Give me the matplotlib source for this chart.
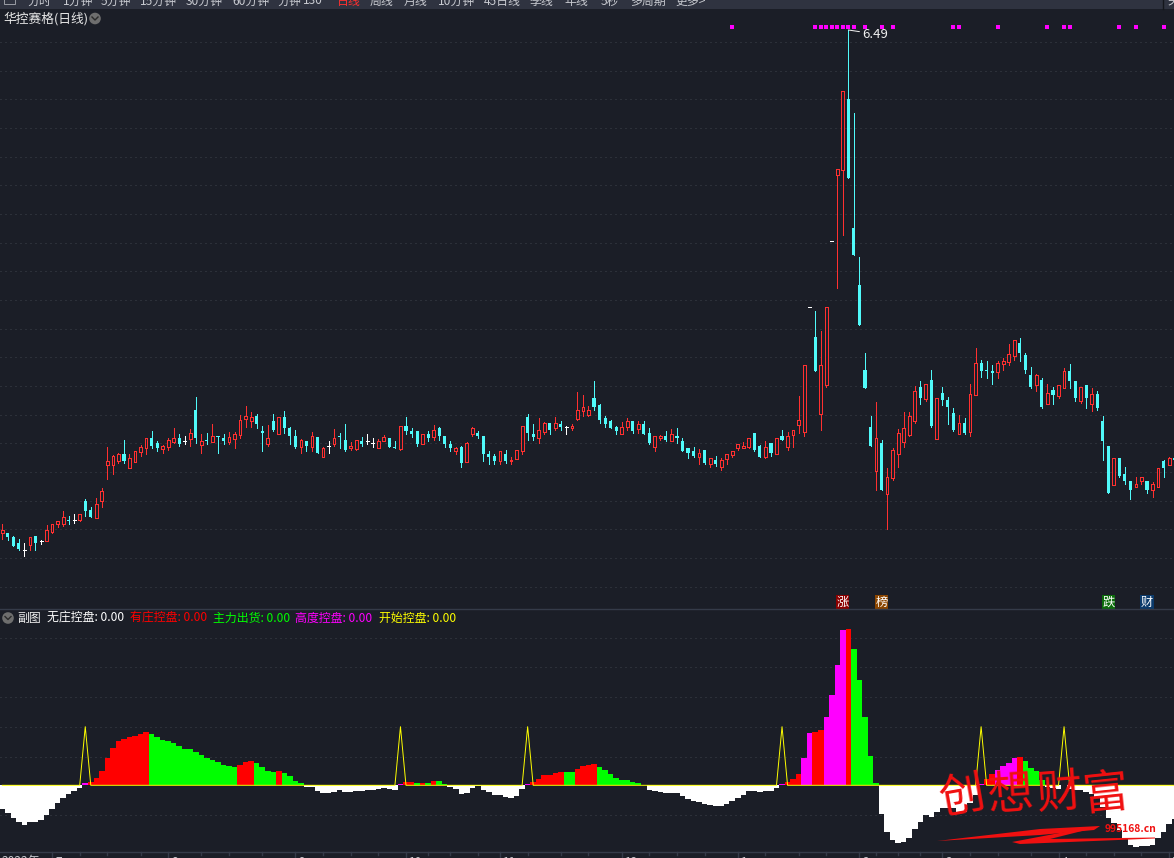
# Stock chart with candle panel on top and control-indicator bars below
import numpy as np
import matplotlib
matplotlib.use('Agg')
import matplotlib.pyplot as plt
from matplotlib.patches import Rectangle, Circle, Polygon

plt.rcParams['font.family'] = ['Noto Sans CJK SC', 'DejaVu Sans']

W, H = 1174, 858
BG = '#1b1e27'
RED = '#ff3030'
CYAN = '#50fafa'
GRID = '#3e424c'
FRAME = '#353b49'

# r = up (hollow red), c = down (cyan), w = flat (white)
kinds = ('rcccwrcwrr' 'rrcwrccrrr' 'rrcrrrrccr' 'rrcwrcrcrc' 'crrrrrccrc'
         'rcccrcrcrw' 'rccrrcwwrr' 'ccrcccrcrc' 'ccrcrrcccc' 'rcrrrccrrc'
         'rcwrrrrccc' 'ccrrcrccrr' 'crccccrcrc' 'rrrrrrccrc' 'rcrrrrwcrr'
         'wrrcccccrc' 'rrrrrrcrcr' 'cccrcrrccc' 'rrrrcccrcr' 'crrccrcrcc'
         'crcccrrcrr' 'crc')

body_top = [1.49, 1.46, 1.42, 1.36, 1.29, 1.42, 1.43, 1.38, 1.49, 1.55,
            1.58, 1.62, 1.59, 1.59, 1.65, 1.78, 1.69, 1.75, 1.88, 2.18,
            2.23, 2.25, 2.25, 2.21, 2.28, 2.32, 2.41, 2.41, 2.36, 2.33,
            2.39, 2.41, 2.41, 2.38, 2.46, 2.69, 2.38, 2.39, 2.43, 2.43,
            2.41, 2.42, 2.45, 2.59, 2.63, 2.62, 2.63, 2.48, 2.41, 2.58,
            2.62, 2.62, 2.51, 2.43, 2.39, 2.38, 2.43, 2.42, 2.31, 2.33,
            2.41, 2.43, 2.39, 2.33, 2.39, 2.38, 2.38, 2.36, 2.38, 2.42,
            2.41, 2.32, 2.53, 2.53, 2.48, 2.48, 2.45, 2.45, 2.49, 2.51,
            2.43, 2.35, 2.31, 2.32, 2.36, 2.51, 2.46, 2.43, 2.25, 2.23,
            2.28, 2.25, 2.19, 2.29, 2.53, 2.62, 2.45, 2.49, 2.56, 2.56,
            2.56, 2.55, 2.52, 2.53, 2.69, 2.72, 2.69, 2.81, 2.74, 2.61,
            2.58, 2.52, 2.52, 2.58, 2.58, 2.55, 2.55, 2.46, 2.43, 2.43,
            2.43, 2.45, 2.43, 2.38, 2.31, 2.28, 2.26, 2.29, 2.21, 2.19,
            2.19, 2.25, 2.28, 2.35, 2.33, 2.41, 2.46, 2.33, 2.32, 2.36,
            2.41, 2.43, 2.43, 2.49, 2.59, 3.14, 3.72, 3.42, 3.14, 3.72,
            4.38, 5.10, 5.88, 5.80, 4.51, 3.94, 3.09, 2.52, 2.41, 2.36,
            2.02, 2.29, 2.46, 2.51, 2.63, 2.88, 2.92, 2.95, 2.99, 2.81,
            2.86, 2.79, 2.66, 2.56, 2.56, 2.85, 3.16, 3.16, 3.09, 3.08,
            3.16, 3.18, 3.25, 3.39, 3.36, 3.24, 3.04, 3.04, 2.99, 2.86,
            2.89, 2.94, 3.08, 3.08, 2.98, 2.92, 2.94, 2.85, 2.85, 2.58,
            2.33, 2.21, 2.21, 2.05, 1.98, 1.95, 2.02, 1.98, 1.95, 2.11,
            2.18, 2.21, 2.21]

body_bot = [1.46, 1.42, 1.33, 1.30, 1.29, 1.34, 1.36, 1.38, 1.38, 1.47,
            1.55, 1.55, 1.58, 1.59, 1.59, 1.68, 1.62, 1.61, 1.78, 2.14,
            2.14, 2.18, 2.18, 2.11, 2.17, 2.27, 2.31, 2.33, 2.31, 2.30,
            2.32, 2.37, 2.35, 2.38, 2.40, 2.41, 2.34, 2.38, 2.37, 2.42,
            2.38, 2.37, 2.40, 2.44, 2.60, 2.58, 2.55, 2.46, 2.35, 2.49,
            2.45, 2.51, 2.43, 2.32, 2.32, 2.33, 2.32, 2.26, 2.22, 2.33,
            2.35, 2.42, 2.29, 2.31, 2.30, 2.35, 2.38, 2.36, 2.31, 2.38,
            2.32, 2.31, 2.30, 2.48, 2.45, 2.35, 2.35, 2.41, 2.42, 2.43,
            2.35, 2.31, 2.28, 2.16, 2.17, 2.45, 2.43, 2.25, 2.22, 2.18,
            2.18, 2.18, 2.18, 2.20, 2.28, 2.46, 2.42, 2.41, 2.47, 2.49,
            2.51, 2.52, 2.52, 2.51, 2.60, 2.68, 2.64, 2.72, 2.59, 2.55,
            2.51, 2.48, 2.45, 2.52, 2.48, 2.50, 2.45, 2.36, 2.32, 2.41,
            2.39, 2.38, 2.41, 2.28, 2.26, 2.23, 2.22, 2.16, 2.15, 2.15,
            2.12, 2.20, 2.24, 2.31, 2.31, 2.32, 2.29, 2.22, 2.22, 2.26,
            2.25, 2.39, 2.32, 2.44, 2.54, 2.47, 3.72, 3.08, 2.65, 2.94,
            4.38, 5.04, 5.09, 5.01, 4.24, 3.54, 2.91, 2.33, 2.08, 1.89,
            1.85, 2.01, 2.25, 2.37, 2.44, 2.58, 2.81, 2.80, 2.53, 2.40,
            2.79, 2.72, 2.49, 2.45, 2.46, 2.47, 2.84, 3.08, 3.08, 3.06,
            3.07, 3.15, 3.17, 3.23, 3.26, 3.09, 2.92, 2.94, 2.72, 2.75,
            2.84, 2.83, 2.91, 2.98, 2.81, 2.78, 2.81, 2.75, 2.71, 2.38,
            1.86, 1.94, 2.03, 1.98, 1.89, 1.92, 1.98, 1.89, 1.89, 1.92,
            2.11, 2.14, 2.19]

highs = [1.55, 1.46, 1.43, 1.40, 1.36, 1.42, 1.43, 1.39, 1.54, 1.55,
         1.58, 1.68, 1.63, 1.65, 1.65, 1.80, 1.72, 1.81, 1.91, 2.32,
         2.24, 2.26, 2.39, 2.25, 2.28, 2.34, 2.41, 2.48, 2.38, 2.34,
         2.41, 2.51, 2.45, 2.43, 2.50, 2.82, 2.45, 2.46, 2.55, 2.43,
         2.45, 2.47, 2.47, 2.64, 2.73, 2.67, 2.65, 2.53, 2.54, 2.65,
         2.62, 2.68, 2.52, 2.49, 2.40, 2.38, 2.47, 2.42, 2.32, 2.38,
         2.50, 2.46, 2.55, 2.37, 2.39, 2.42, 2.45, 2.41, 2.40, 2.44,
         2.41, 2.38, 2.53, 2.62, 2.51, 2.48, 2.45, 2.48, 2.54, 2.52,
         2.43, 2.38, 2.32, 2.33, 2.37, 2.52, 2.48, 2.43, 2.28, 2.25,
         2.28, 2.29, 2.22, 2.29, 2.53, 2.65, 2.55, 2.61, 2.57, 2.56,
         2.62, 2.58, 2.53, 2.55, 2.87, 2.84, 2.73, 2.98, 2.75, 2.63,
         2.59, 2.53, 2.57, 2.61, 2.58, 2.58, 2.58, 2.51, 2.43, 2.44,
         2.48, 2.50, 2.51, 2.41, 2.31, 2.32, 2.30, 2.29, 2.21, 2.23,
         2.21, 2.25, 2.28, 2.35, 2.37, 2.41, 2.46, 2.34, 2.38, 2.36,
         2.41, 2.49, 2.47, 2.49, 2.83, 3.14, 3.72, 3.68, 3.48, 3.72,
         4.38, 5.10, 5.88, 6.49, 5.66, 4.22, 3.26, 2.63, 2.77, 2.39,
         2.11, 2.31, 2.50, 2.67, 2.67, 2.93, 2.98, 2.95, 3.09, 2.81,
         2.92, 2.82, 2.71, 2.64, 2.61, 2.95, 3.31, 3.19, 3.18, 3.14,
         3.18, 3.21, 3.35, 3.39, 3.41, 3.26, 3.12, 3.05, 3.01, 2.95,
         2.92, 2.94, 3.11, 3.15, 2.98, 2.92, 2.94, 2.91, 2.88, 2.63,
         2.33, 2.21, 2.21, 2.12, 1.98, 2.02, 2.02, 1.98, 1.97, 2.11,
         2.19, 2.22, 2.21]

lows = [1.40, 1.39, 1.33, 1.29, 1.23, 1.29, 1.29, 1.35, 1.38, 1.46,
        1.52, 1.53, 1.55, 1.56, 1.58, 1.63, 1.62, 1.61, 1.72, 2.00,
        2.05, 2.16, 2.16, 2.11, 2.17, 2.23, 2.25, 2.31, 2.28, 2.26,
        2.29, 2.36, 2.33, 2.35, 2.33, 2.36, 2.26, 2.35, 2.37, 2.26,
        2.35, 2.35, 2.31, 2.41, 2.52, 2.52, 2.51, 2.28, 2.33, 2.48,
        2.45, 2.46, 2.35, 2.31, 2.26, 2.28, 2.28, 2.26, 2.22, 2.26,
        2.33, 2.31, 2.28, 2.29, 2.29, 2.33, 2.35, 2.32, 2.31, 2.38,
        2.32, 2.31, 2.29, 2.45, 2.42, 2.33, 2.35, 2.38, 2.39, 2.39,
        2.32, 2.28, 2.25, 2.12, 2.17, 2.43, 2.41, 2.18, 2.15, 2.15,
        2.15, 2.16, 2.15, 2.20, 2.25, 2.39, 2.39, 2.36, 2.45, 2.45,
        2.49, 2.49, 2.45, 2.49, 2.59, 2.63, 2.63, 2.69, 2.56, 2.52,
        2.51, 2.45, 2.45, 2.49, 2.46, 2.46, 2.45, 2.35, 2.28, 2.39,
        2.38, 2.38, 2.36, 2.28, 2.21, 2.22, 2.15, 2.15, 2.12, 2.13,
        2.09, 2.15, 2.22, 2.29, 2.31, 2.31, 2.28, 2.22, 2.21, 2.23,
        2.25, 2.39, 2.29, 2.32, 2.46, 2.43, 3.72, 3.08, 2.49, 2.92,
        4.38, 3.91, 4.44, 5.01, 4.24, 3.54, 2.91, 2.33, 1.89, 1.89,
        1.50, 1.99, 2.12, 2.32, 2.43, 2.56, 2.75, 2.78, 2.52, 2.40,
        2.74, 2.55, 2.48, 2.45, 2.45, 2.43, 2.84, 3.02, 3.01, 2.95,
        3.01, 3.09, 3.14, 3.19, 3.18, 3.06, 2.91, 2.88, 2.71, 2.75,
        2.75, 2.81, 2.91, 2.91, 2.78, 2.76, 2.71, 2.68, 2.69, 2.19,
        1.86, 1.94, 2.02, 1.95, 1.80, 1.92, 1.95, 1.86, 1.82, 1.92,
        2.02, 2.14, 2.19]

price_grid = [6.37 - 0.2866 * k for k in range(20)]
peak_index = 153
peak_price = 6.49

# days flagged along the top edge
dot_days = [132, 147, 148, 149, 150, 151, 152, 153, 154, 156, 159, 161,
            172, 173, 180, 189, 192, 193, 202, 205, 210]

# w 无庄控盘, r 有庄控盘, g 主力出货, m 高度控盘
sub_kinds = ('w' * 15 + 'm' + 'r' * 11 + 'g' * 16 + 'rrr' + 'gggg' + 'r' + 'gggg'
             + 'w' * 17 + 'm' + 'rrgrgrgg' + 'w' * 14 + 'm' + 'r' * 6 + 'gg'
             + 'rrrr' + 'g' * 9 + 'w' * 24 + 'm' + 'rrr' + 'mm' + 'rr' + 'mmmm'
             + 'r' + 'ggggg' + 'w' * 18 + 'm' + 'rr' + 'mmmm' + 'r' + 'gggg'
             + 'www' + 'm' + 'w' * 20)

sub_values = [-2.37, -2.80, -3.30, -3.67, -3.97, -3.67, -3.67, -3.47, -2.97, -2.40,
              -1.73, -1.30, -0.87, -0.53, -0.30, 0.20, 0.33, 0.73, 1.43, 2.73,
              3.73, 4.43, 4.63, 4.83, 4.93, 5.13, 5.33, 5.13, 4.83, 4.53,
              4.43, 4.23, 3.93, 3.63, 3.63, 3.33, 3.03, 2.73, 2.53, 2.33,
              2.03, 1.93, 1.87, 2.03, 2.33, 2.43, 2.23, 1.83, 1.43, 1.33,
              1.43, 1.23, 0.93, 0.43, 0.23, -0.17, -0.17, -0.57, -0.77, -0.77,
              -0.67, -0.47, -0.67, -0.67, -0.57, -0.57, -0.47, -0.47, -0.37, -0.27,
              -0.37, -0.47, 0.10, 0.33, 0.33, 0.23, 0.23, 0.23, 0.43, 0.43,
              0.13, -0.17, -0.37, -0.87, -0.77, -0.27, -0.10, -0.47, -0.67, -0.97,
              -0.97, -1.17, -1.27, -1.07, -0.37, 0.10, 0.33, 0.63, 1.03, 1.03,
              1.20, 1.33, 1.33, 1.33, 1.63, 1.93, 2.03, 2.13, 1.83, 1.53,
              1.13, 0.73, 0.53, 0.53, 0.33, 0.23, 0.05, -0.47, -0.57, -0.67,
              -0.77, -0.77, -0.77, -1.07, -1.37, -1.57, -1.67, -1.87, -1.97, -2.07,
              -2.07, -1.87, -1.57, -1.27, -0.97, -0.57, -0.57, -0.67, -0.57, -0.57,
              -0.27, 0.17, 0.33, 0.63, 1.13, 2.73, 5.23, 5.33, 5.53, 6.83,
              9.03, 12.03, 15.53, 15.63, 13.63, 10.53, 6.83, 2.93, 0.23, -2.87,
              -4.67, -5.47, -5.77, -5.67, -5.27, -4.37, -3.67, -2.97, -3.17, -2.67,
              -2.27, -2.27, -2.27, -2.67, -2.67, -1.80, -0.97, 0.10, 0.67, 1.13,
              1.53, 1.93, 2.23, 2.73, 2.83, 2.43, 1.73, 1.43, 0.53, -0.13,
              -0.30, -0.40, 0.05, -0.37, -0.47, -0.47, -0.67, -0.87, -1.30, -2.13,
              -3.27, -3.80, -4.47, -5.40, -5.97, -6.17, -6.07, -6.07, -5.97, -5.27,
              -4.67, -3.87, -3.37]

start_days = [15, 72, 95, 141, 177, 192]
start_level = 5.86
sub_grid = [14.76, 11.86, 8.86, 5.86, 2.86, -3.0]

month_days = [9, 30, 53, 73, 90, 112, 133, 155, 170, 191, 211]
month_labels = ['7', '8', '9', '10', '11', '12', '1', '2', '3', '4', '5']
minor_days = [14, 19, 25, 36, 41, 47, 58, 63, 68, 77, 81, 86, 95, 101, 106,
              117, 122, 127, 138, 144, 149, 158, 162, 166, 175, 180, 186,
              196, 201, 206]

legend_items = ['无庄控盘', '有庄控盘', '主力出货', '高度控盘', '开始控盘']
legend_values = [0.00, 0.00, 0.00, 0.00, 0.00]
legend_colors = ['#ffffff', '#ff0000', '#00ff00', '#ff00ff', '#ffff00']
legend_x = [47, 130, 213, 295, 379]

tag_texts = ['涨', '榜', '跌', '财']
tag_days = [152, 159, 200, 207]
tag_colors = ['#8b0000', '#8a4500', '#0b6b0b', '#0b3a6b']

menu_items = ['分时', '1分钟', '5分钟', '15分钟', '30分钟', '60分钟', '分钟', '130', '日线',
              '周线', '月线', '10分钟', '45日线', '季线', '年线', '5秒', '多周期', '更多>']
menu_x = [28, 63, 101, 140, 186, 232, 278, 303, 337, 370, 404, 438, 484, 530, 564, 601, 630, 675]

fig = plt.figure(figsize=(W / 100, H / 100), dpi=100, facecolor=BG)
days = np.arange(len(kinds))
xlim = (-2.3 / 5.53, (W - 2.3) / 5.53)


def panel(top, bottom):
    ax = fig.add_axes([0, 1 - bottom / H, 1, (bottom - top) / H])
    ax.set_facecolor(BG)
    ax.set_xlim(xlim)
    ax.set_xticks([])
    ax.set_yticks([])
    for s in ax.spines.values():
        s.set_visible(False)
    return ax


def dotted(ax, levels):
    for v in levels:
        ax.axhline(v, color=GRID, lw=0.72, linestyle=(0, (1, 4)), zorder=1)


# candles, scale is 100 px per 1.00 of price
ax = panel(22, 610)
ax.set_ylim(6.79 - 6.10, 6.79 - 0.22)
dotted(ax, price_grid)
colors = {'r': RED, 'c': CYAN, 'w': '#ffffff'}
for i, k in enumerate(kinds):
    ax.vlines(i, lows[i], highs[i], color=colors[k], lw=0.72, antialiased=False, zorder=2)
    if k == 'r':
        ax.bar(i, body_top[i] - body_bot[i], bottom=body_bot[i], width=0.5, facecolor=BG,
               edgecolor=RED, linewidth=0.72, antialiased=False, zorder=3)
    elif k == 'c':
        ax.bar(i, body_top[i] - body_bot[i], bottom=body_bot[i], width=0.56, color=CYAN,
               linewidth=0, antialiased=False, zorder=3)
    else:
        ax.hlines(body_top[i], i - 0.27, i + 0.27, color='#ffffff', lw=0.72,
                  antialiased=False, zorder=3)

ax.scatter(dot_days, [6.52] * len(dot_days), marker='s', s=6, color='#ff00ff', linewidths=0, zorder=4)
ax.annotate(f'{peak_price:.2f}', xy=(peak_index, peak_price), xytext=(peak_index + 2.5, peak_price - 0.04),
            color='#f0f0f0', fontsize=9.5, va='center', zorder=5,
            arrowprops=dict(arrowstyle='-', color='#f0f0f0', lw=0.72, shrinkA=0, shrinkB=0))
for t, d, c in zip(tag_texts, tag_days, tag_colors):
    ax.text(d, 0.77, t, color='white', fontsize=8.8, ha='center', va='center', zorder=5,
            bbox=dict(boxstyle='square,pad=0.04', facecolor=c, edgecolor='none'))

# control indicator, 10 px per unit around the zero line
ax2 = panel(610, 852)
ax2.set_ylim((785.3 - 852) / 10, (785.3 - 610) / 10)
dotted(ax2, sub_grid)
sub_colors = {'w': '#ffffff', 'r': '#ff0000', 'g': '#00ff00', 'm': '#ff00ff'}
ax2.bar(days, sub_values, width=1.0, color=[sub_colors[k] for k in sub_kinds], linewidth=0,
        antialiased=False, zorder=2)
start_line = np.zeros(len(days))
start_line[start_days] = start_level
ax2.plot(days, start_line, color='#ffff00', lw=0.7, zorder=3)
ax2.set_xlim(xlim)

# window furniture, in pixel coordinates
top = fig.add_axes([0, 0, 1, 1], facecolor='none')
top.set_xlim(0, W)
top.set_ylim(H, 0)
top.axis('off')
top.add_patch(Rectangle((0, 0), W, 8.5, facecolor='#2f3340', edgecolor='none'))
top.add_patch(Rectangle((4, -3), 11, 7, facecolor='none', edgecolor='#9a9da5', lw=0.7))
for x, t in zip(menu_x, menu_items):
    top.text(x, 1, t, color=RED if t == '日线' else '#c8cad0', fontsize=8.6, va='center')
top.plot([1162.7, 1162.7], [0, 8.5], color='#14161c', lw=1)
top.text(1167, 1, '关', color='#c8cad0', fontsize=8.6, va='center')

top.text(3, 18.5, '华控赛格(日线)', color='#e8e8e8', fontsize=9.2, va='center')
for cx, cy in [(95, 18.5), (8, 618)]:
    top.add_patch(Circle((cx, cy), 5.8, facecolor='#6e6e6e', edgecolor='none'))
    top.plot([cx - 3, cx, cx + 3], [cy - 1.5, cy + 1.5, cy - 1.5], color='#2a2a2a', lw=1)

top.plot([0, W], [609.3, 609.3], color=FRAME, lw=1)
top.plot([0, W], [852, 852], color=FRAME, lw=1)
top.text(17, 618, '副图', color='#f0f0f0', fontsize=8.6, va='center')
for x, t, c, v in zip(legend_x, legend_items, legend_colors, legend_values):
    top.text(x, 618, f'{t}: {v:.2f}', color=c, fontsize=8.6, va='center')

# date strip, text cut by the window edge as in the screenshot
for d, t in zip(month_days, month_labels):
    x = 2.3 + 5.53 * d
    top.plot([x, x], [852, 858], color=FRAME, lw=1)
    top.text(x + 3, 862, t, color='#c8cad0', fontsize=8.6, va='center')
for d in minor_days:
    x = 2.3 + 5.53 * d
    top.plot([x, x], [852, 855], color=FRAME, lw=1)
top.text(2, 862, '2022年', color='#c8cad0', fontsize=8.6, va='center')

# watermark
for x, y, t, r in [(963, 797, '创', 10), (1010, 795, '想', 4), (1059, 793, '财', 4), (1105, 794, '富', 6)]:
    top.text(x, y, t, color='#f01010', fontsize=33, fontweight='medium', ha='center', va='center',
             rotation=r, style='italic', zorder=6)
top.add_patch(Polygon([(937, 841), (1040, 829), (1100, 826), (1094, 830), (1040, 835)],
                      facecolor='#f01010', edgecolor='none', zorder=6))
top.add_patch(Polygon([(1012, 842), (1070, 831), (1094, 828), (1050, 839), (1155, 837.5), (1155, 838.5),
                       (1020, 844)], facecolor='#f01010', edgecolor='none', zorder=6))
top.text(1105, 829.5, '995168.cn', color='#f01010', fontsize=7.4, fontweight='bold', va='center', zorder=7)

fig.savefig('out.png', dpi=100, facecolor=BG)
